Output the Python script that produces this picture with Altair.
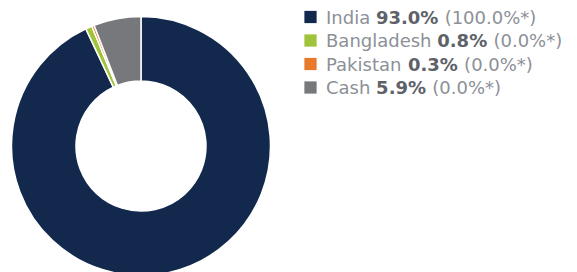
import altair as alt
import pandas as pd

# ---- data ----
categories = ["India", "Bangladesh", "Pakistan", "Cash"]
weights = [93.0, 0.8, 0.3, 5.9]
value_labels = ["93.0%", "0.8%", "0.3%", "5.9%"]
bench_labels = ["(100.0%*)", "(0.0%*)", "(0.0%*)", "(0.0%*)"]
colors = ["#12294d", "#9fc43a", "#e8792a", "#76787b"]

# ---- styling / layout ----
FONT = "DejaVu Sans"
FS = 18
LABEL_GREY = "#8c9097"
VALUE_GREY = "#5e6268"
W, H = 561, 270
CX, CY = 133, 138
R_OUT, R_IN = 129.5, 65
LEG_SQ_X = 302.5
LEG_TXT_X = 318
ROW_TOP, ROW_BOTTOM = 9, 79.5
TEXT_DY = 1.5

# DejaVu Sans advance widths (units per em = 2048), used to place the bold
# value and the bracketed benchmark right after each label.
REG = {" ": 651, "(": 799, ")": 799, "*": 1024, "%": 1946, ".": 651,
       "I": 604, "n": 1298, "d": 1300, "i": 569, "a": 1255, "B": 1405,
       "g": 1300, "l": 569, "e": 1260, "s": 1067, "h": 1298, "P": 1235,
       "k": 1186, "t": 803, "C": 1430}
BOLD = {" ": 713, ".": 780, "%": 2052}


def width(s, table, default):
    return sum(table.get(c, default) for c in s) / 2048 * FS


rows = []
for i, (c, v, vl, bl) in enumerate(zip(categories, weights, value_labels, bench_labels)):
    x_val = LEG_TXT_X + width(c + " ", REG, 1303)
    x_bench = x_val + width(vl + " ", BOLD, 1425)
    rows.append({"cat": c, "w": v, "idx": i, "vl": vl, "bl": bl,
                 "x_lab": LEG_TXT_X, "x_val": x_val, "x_bench": x_bench})
df = pd.DataFrame(rows)

color_scale = alt.Scale(domain=categories, range=colors)
yscale = alt.Scale(type="point", domain=categories, range=[ROW_TOP, ROW_BOTTOM], padding=0)

base = alt.Chart(df)

donut = base.mark_arc(
    outerRadius=R_OUT, innerRadius=R_IN, stroke="white", strokeWidth=1.5
).encode(
    theta=alt.Theta("w:Q", stack=True),
    order=alt.Order("idx:Q"),
    color=alt.Color("cat:N", scale=color_scale, legend=None),
    x=alt.value(CX),
    y=alt.value(CY),
)

squares = base.mark_square(size=150, opacity=1, filled=True).encode(
    x=alt.value(LEG_SQ_X),
    y=alt.Y("cat:N", scale=yscale, axis=None),
    color=alt.Color("cat:N", scale=color_scale, legend=None),
)

text_kw = dict(align="left", baseline="middle", font=FONT, fontSize=FS, dy=TEXT_DY)

lab = base.mark_text(color=LABEL_GREY, **text_kw).encode(
    x=alt.X("x_lab:Q", scale=None),
    y=alt.Y("cat:N", scale=yscale, axis=None),
    text="cat:N",
)
val = base.mark_text(fontWeight="bold", color=VALUE_GREY, **text_kw).encode(
    x=alt.X("x_val:Q", scale=None),
    y=alt.Y("cat:N", scale=yscale, axis=None),
    text="vl:N",
)
bench = base.mark_text(color=LABEL_GREY, **text_kw).encode(
    x=alt.X("x_bench:Q", scale=None),
    y=alt.Y("cat:N", scale=yscale, axis=None),
    text="bl:N",
)

chart = alt.layer(donut, squares, lab, val, bench).properties(
    width=W, height=H, autosize=alt.AutoSizeParams(type="none"), padding=0
).configure_view(stroke=None)

chart.save("out.html", embed_options={"renderer": "svg", "actions": False})
